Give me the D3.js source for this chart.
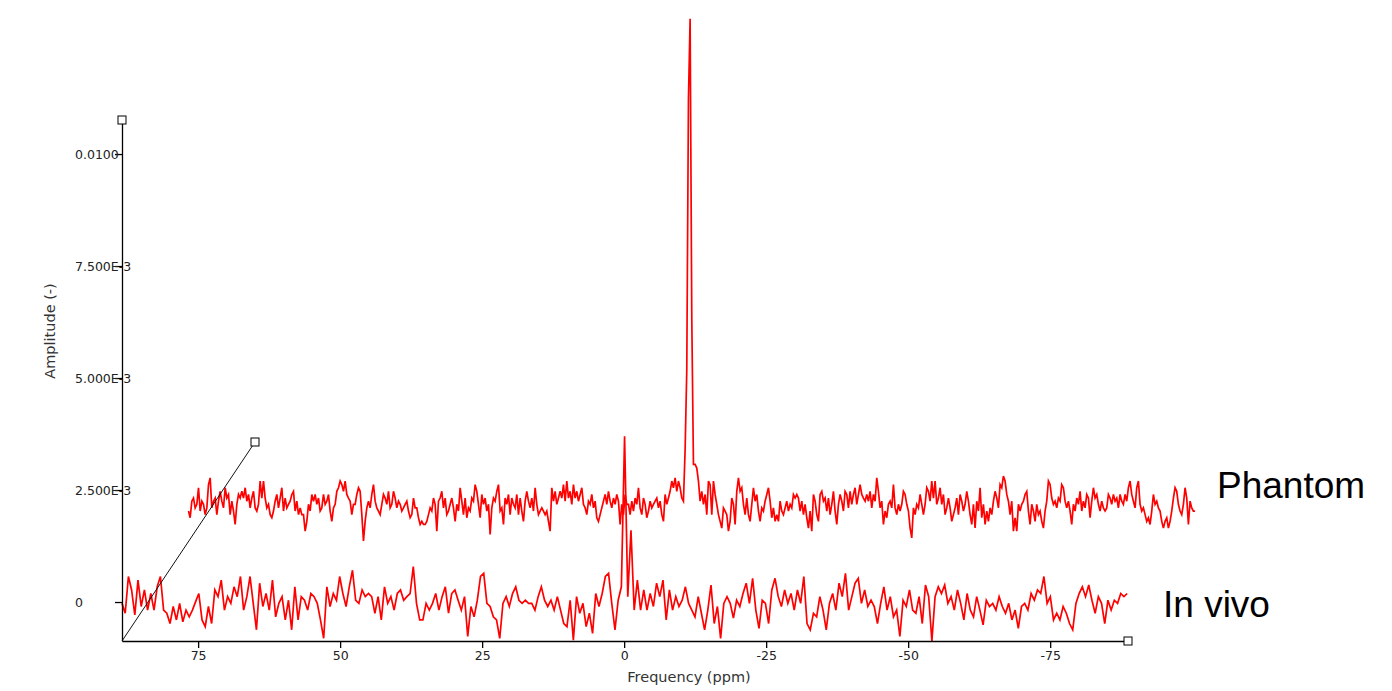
<!DOCTYPE html>
<html>
<head>
<meta charset="utf-8">
<script src="https://cdn.jsdelivr.net/npm/d3@7"></script>
<style>
  body { margin: 0; background: #fff; }
  svg { display: block; }
</style>
</head>
<body>
<div id="chart"></div>
<script>
// amplitudes are in units of 1E-3, frequency in ppm
const seriesNames = ["In vivo", "Phantom"];
const seriesDepth = [0, 0.5];          // position along the depth axis (0 = front)
const invivoPpm = [88.4, -88.55];      // first / last point of the frequency grid
const phantomPpm = [88.4, -88.8];

const invivoAmp = [
  -0.03,-0.25,0.57,0.27,-0.29,0.49,-0.10,0.27,-0.18,0.19,
  -0.18,0.34,0.57,-0.18,-0.25,-0.48,-0.10,-0.40,-0.03,-0.44,
  -0.18,-0.33,-0.18,0.01,0.19,-0.40,-0.55,-0.10,-0.48,0.27,
  0.12,0.49,-0.18,0.12,-0.03,0.34,0.12,0.57,-0.18,0.12,
  0.57,-0.03,-0.62,0.42,-0.10,0.19,-0.18,0.49,-0.33,-0.03,
  0.12,-0.40,0.04,-0.62,0.34,-0.40,0.12,0.04,-0.18,0.19,
  0.12,-0.03,-0.40,-0.81,0.34,-0.10,0.19,0.04,0.57,0.19,
  -0.10,0.34,0.71,0.04,-0.03,0.27,0.12,0.19,0.12,-0.25,
  0.12,-0.40,0.34,-0.03,0.12,-0.18,0.19,0.27,0.04,0.12,
  0.19,0.79,-0.03,-0.40,-0.40,-0.03,-0.18,-0.03,0.19,-0.18,
  0.12,0.34,-0.25,0.19,0.27,0.04,-0.18,0.12,-0.77,-0.10,
  -0.33,0.04,0.57,0.64,-0.03,-0.10,-0.33,-0.40,-0.81,-0.03,
  0.12,-0.10,0.19,0.34,0.04,-0.03,0.04,-0.03,-0.03,-0.18,
  0.12,0.34,0.04,-0.10,0.04,-0.18,0.12,-0.18,-0.48,-0.55,
  0.04,-0.85,0.12,-0.25,-0.03,-0.55,-0.25,-0.70,0.19,-0.10,
  0.19,0.57,0.64,-0.03,-0.62,0.04,0.34,
  3.70,0.12,1.60,-0.18,0.49,-0.18,0.27,-0.18,0.19,-0.10,
  0.42,0.12,0.49,-0.40,0.27,-0.18,0.12,-0.10,0.04,0.34,
  -0.03,-0.18,-0.33,0.12,-0.25,-0.62,-0.18,0.38,-0.48,-0.10,
  -0.81,-0.03,0.12,-0.03,-0.36,0.04,-0.10,0.19,0.42,-0.03,
  0.53,-0.18,-0.59,0.04,-0.03,-0.48,0.27,0.53,0.12,-0.10,
  0.27,-0.03,0.19,-0.18,0.27,-0.03,0.57,-0.48,-0.62,-0.25,
  -0.33,0.12,-0.18,-0.62,-0.03,0.19,-0.18,0.42,0.12,0.64,
  -0.18,0.12,0.42,0.53,-0.03,0.27,-0.10,0.04,-0.10,-0.48,
  -0.03,0.34,-0.18,0.12,-0.33,-0.18,-0.77,0.04,-0.10,0.27,
  -0.18,-0.25,0.12,-0.48,0.38,0.12,-0.87,0.12,0.34,0.19,
  0.38,-0.03,0.12,-0.18,0.27,-0.03,-0.40,0.19,-0.18,-0.33,
  0.12,-0.18,-0.51,0.04,-0.10,-0.03,-0.18,0.12,-0.10,-0.25,
  -0.03,-0.40,-0.18,-0.59,-0.10,-0.03,-0.18,0.19,0.04,0.27,
  0.19,0.57,-0.03,0.12,-0.40,-0.25,-0.40,-0.10,-0.25,-0.48,
  -0.62,-0.03,0.19,0.34,0.12,0.38,0.04,-0.25,0.12,-0.03,
  -0.48,0.04,-0.18,0.04,-0.03,0.19,0.12,0.19
];

const phantomAmp = [
  -0.19,-0.34,0.03,0.10,-0.12,-0.04,0.33,-0.19,0.03,-0.04,
  -0.27,-0.12,0.40,0.55,-0.12,0.03,0.10,-0.27,0.03,0.25,
  0.03,-0.12,0.33,0.10,0.18,-0.27,0.03,-0.19,-0.49,-0.04,
  0.18,0.10,0.25,0.10,0.33,0.03,0.18,-0.12,0.10,0.25,
  -0.12,-0.19,-0.04,0.48,0.10,0.48,0.10,-0.12,-0.04,-0.27,
  -0.34,-0.19,0.03,0.18,-0.12,0.10,0.33,-0.19,0.10,-0.12,
  -0.04,0.03,0.18,0.25,-0.19,0.03,-0.27,-0.12,-0.27,-0.27,
  -0.64,-0.42,-0.04,-0.19,0.18,0.03,0.18,-0.04,0.10,-0.19,
  -0.12,0.18,-0.04,0.03,0.18,-0.19,-0.42,-0.12,-0.04,0.25,
  0.33,0.48,0.40,0.25,0.48,0.18,0.10,0.03,-0.27,-0.04,
  -0.04,0.18,0.33,0.25,-0.27,-0.86,-0.42,-0.12,0.03,-0.12,
  0.18,0.40,0.03,-0.12,-0.19,-0.27,-0.04,0.18,0.10,-0.04,
  0.25,-0.12,-0.04,0.25,0.10,-0.12,0.03,-0.04,-0.19,-0.12,
  -0.04,0.03,-0.19,-0.34,-0.27,0.10,-0.12,-0.12,-0.34,-0.49,
  -0.42,-0.49,-0.49,-0.42,-0.27,-0.12,-0.19,0.10,-0.04,-0.64,
  0.03,0.10,0.25,-0.12,0.10,-0.27,-0.19,-0.04,0.10,-0.12,
  -0.42,-0.04,-0.19,0.33,0.03,-0.27,0.10,-0.34,-0.12,-0.19,
  0.10,0.03,0.40,0.25,-0.04,-0.34,0.18,-0.04,0.10,-0.19,
  -0.04,-0.71,-0.12,0.10,0.03,0.25,0.40,-0.19,-0.12,-0.49,
  0.10,-0.04,0.18,-0.27,0.10,-0.04,-0.12,0.18,-0.27,0.10,
  -0.19,-0.42,0.03,0.25,0.03,-0.12,0.10,-0.19,0.33,-0.04,
  -0.27,-0.19,-0.12,-0.19,-0.27,-0.19,-0.42,-0.64,0.33,0.03,
  0.25,-0.04,0.10,0.25,0.10,0.40,0.03,0.48,0.10,0.25,
  -0.04,0.40,0.10,0.25,0.03,0.18,0.33,-0.04,-0.12,-0.27,
  0.03,-0.04,0.18,-0.12,0.03,-0.34,-0.42,-0.27,-0.12,0.03,
  0.18,-0.04,0.25,0.03,-0.12,0.10,-0.04,0.18,0.03,-0.49,
  -0.04,-0.27,0.18,-0.04,-0.04,-0.27,0.03,-0.19,0.10,-0.04,
  0.33,-0.12,-0.27,0.10,-0.04,-0.34,-0.19,0.03,-0.12,-0.04,
  0.03,0.10,-0.12,0.03,-0.27,-0.42,0.18,-0.04,0.10,0.25,
  0.48,0.33,0.55,0.25,0.48,0.33,0.10,0.03,1.18,
  2.97,9.00,10.80,4.10,0.85,
  0.85,0.77,0.48,0.03,0.25,-0.04,0.18,-0.27,0.48,0.40,
  -0.27,0.48,0.18,-0.04,-0.27,-0.42,-0.57,-0.12,-0.19,-0.27,
  -0.64,-0.42,0.10,-0.04,-0.49,0.25,0.55,0.25,0.33,-0.04,
  -0.27,0.10,-0.27,-0.42,-0.04,0.33,0.03,0.18,-0.19,-0.42,
  -0.12,-0.19,0.03,0.18,0.33,0.03,-0.34,-0.12,-0.42,-0.27,
  -0.42,0.03,-0.19,-0.27,-0.12,0.03,-0.19,-0.04,-0.12,0.18,
  0.10,0.18,0.10,-0.19,0.03,-0.27,-0.04,-0.34,-0.57,-0.19,
  -0.64,0.18,0.03,-0.27,-0.42,0.18,0.25,0.03,0.10,-0.19,
  0.10,-0.27,-0.04,0.25,-0.19,-0.49,-0.04,0.18,0.03,-0.19,
  0.25,0.18,-0.12,0.25,-0.04,0.18,0.33,-0.04,0.18,0.40,
  0.18,0.10,0.03,0.18,0.03,0.25,-0.12,0.18,0.03,0.55,
  0.25,-0.12,0.03,-0.49,-0.19,-0.34,-0.04,0.03,-0.12,0.40,
  -0.12,-0.27,-0.04,-0.19,-0.04,0.25,0.18,-0.04,-0.19,-0.57,
  -0.79,-0.12,-0.27,-0.04,-0.12,0.18,-0.04,-0.27,-0.04,0.33,
  0.25,0.03,0.48,0.10,0.48,-0.04,0.10,0.33,-0.04,0.18,
  -0.27,-0.12,0.10,-0.12,-0.42,-0.27,-0.12,0.10,-0.27,0.18,
  0.03,-0.19,-0.04,0.25,0.03,-0.27,-0.49,-0.04,-0.57,0.03,
  -0.19,0.33,-0.34,-0.04,-0.49,-0.19,-0.42,-0.12,-0.27,0.03,
  0.25,0.10,-0.12,0.40,0.33,0.59,0.48,0.18,0.03,-0.27,
  0.03,-0.64,-0.34,-0.64,-0.04,-0.19,-0.04,0.03,0.18,0.25,
  -0.19,-0.49,-0.04,-0.19,-0.42,-0.04,-0.27,-0.19,-0.42,-0.57,
  -0.19,0.03,0.48,0.40,0.10,-0.04,0.03,-0.12,0.10,0.03,
  0.40,0.33,0.03,-0.12,0.03,-0.19,-0.49,-0.04,-0.19,0.10,
  -0.04,0.25,-0.19,0.03,-0.12,0.18,0.10,-0.34,0.03,0.33,
  0.10,0.18,-0.04,-0.19,0.03,-0.12,-0.19,-0.12,0.18,0.10,
  -0.04,0.18,0.03,0.10,-0.12,0.18,0.03,-0.04,0.18,0.03,
  0.33,0.48,0.18,0.03,-0.12,0.33,0.48,-0.04,-0.19,-0.12,
  -0.27,-0.42,-0.34,-0.49,-0.19,0.18,-0.04,0.03,-0.12,-0.19,
  -0.42,-0.57,-0.42,-0.34,-0.57,-0.42,-0.19,0.10,0.33,0.25,
  -0.04,-0.19,-0.27,-0.04,0.33,0.10,-0.49,0.03,-0.12,-0.19,
  -0.19
];

const xTicks = [75, 50, 25, 0, -25, -50, -75];
const yTicks = [0, 2.5, 5, 7.5, 10];
const yTickLabels = ["0", "2.500E-3", "5.000E-3", "7.500E-3", "0.0100"];
const xTitle = "Frequency (ppm)";
const yTitle = "Amplitude (-)";

const width = 1392, height = 691;
const smallFont = "'DejaVu Sans', Verdana, sans-serif";
const bigFont = "'Liberation Sans', Arial, sans-serif";

const x = d3.scaleLinear().domain([88.4, -88.7]).range([122, 1128]);
const y = d3.scaleLinear().domain([-0.87, 10.76]).range([641, 120]);
// depth axis drawn as an oblique projection
const zX = d3.scaleLinear().domain([0, 1]).range([0, 133]);
const zY = d3.scaleLinear().domain([0, 1]).range([0, -199]);

const svg = d3.select("#chart").append("svg")
  .attr("width", width)
  .attr("height", height);

function toPoints(amp, ppmRange) {
  const f = d3.scaleLinear().domain([0, amp.length - 1]).range(ppmRange);
  return amp.map((a, i) => [f(i), a]);
}

const series = [
  {name: seriesNames[1], depth: seriesDepth[1], pts: toPoints(phantomAmp, phantomPpm)},
  {name: seriesNames[0], depth: seriesDepth[0], pts: toPoints(invivoAmp, invivoPpm)}
];

svg.append("g").selectAll("path")
  .data(series).enter()
  .append("path")
    .attr("fill", "none")
    .attr("stroke", "#ff0000")
    .attr("stroke-width", 1.7)
    .attr("stroke-linejoin", "miter")
    .attr("d", s => d3.line()
      .x(d => x(d[0]) + zX(s.depth))
      .y(d => y(d[1]) + zY(s.depth))(s.pts));

// x axis
const gx = svg.append("g")
  .attr("transform", `translate(0,${y(-0.87)})`)
  .call(d3.axisBottom(x).tickValues(xTicks).tickSize(7).tickSizeOuter(0).tickFormat(d => String(d)));
gx.selectAll("text").attr("y", 10).attr("font-size", 12.5).attr("font-family", smallFont).attr("fill", "#222");

// y axis
const gy = svg.append("g")
  .attr("transform", `translate(${x(88.4)},0)`)
  .call(d3.axisLeft(y).tickValues(yTicks).tickSize(7).tickSizeOuter(0).tickFormat((d, i) => yTickLabels[i]));
gy.selectAll("text")
  .attr("x", -47)
  .attr("text-anchor", "start")
  .attr("font-size", 12.5)
  .attr("font-family", smallFont)
  .attr("fill", "#222");
gy.selectAll("path, line").attr("stroke", "#000").attr("stroke-width", 1.3);
gx.selectAll("path, line").attr("stroke", "#000").attr("stroke-width", 1.3);

// depth axis
const ox = x(88.4), oy = y(-0.87);
svg.append("line")
  .attr("x1", ox).attr("y1", oy)
  .attr("x2", ox + zX(1)).attr("y2", oy + zY(1))
  .attr("stroke", "#111")
  .attr("stroke-width", 1);

// end markers
const ends = [[ox, y(10.76)], [x(-88.7), oy], [ox + zX(1), oy + zY(1)]];
svg.append("g").selectAll("rect")
  .data(ends).enter()
  .append("rect")
    .attr("x", d => d[0] - 4)
    .attr("y", d => d[1] - 4)
    .attr("width", 8)
    .attr("height", 8)
    .attr("fill", "#fff")
    .attr("stroke", "#000")
    .attr("stroke-width", 1);

// axis titles
svg.append("text")
  .attr("x", 689).attr("y", 682)
  .attr("text-anchor", "middle")
  .attr("font-family", smallFont)
  .attr("font-size", 14.5)
  .attr("fill", "#333")
  .text(xTitle);

svg.append("text")
  .attr("transform", "translate(55,331) rotate(-90)")
  .attr("text-anchor", "middle")
  .attr("font-family", smallFont)
  .attr("font-size", 14.5)
  .attr("fill", "#333")
  .text(yTitle);

// series labels
svg.append("text")
  .attr("x", 1217).attr("y", 498)
  .attr("font-family", bigFont)
  .attr("font-size", 37)
  .attr("fill", "#000")
  .text(seriesNames[1]);

svg.append("text")
  .attr("x", 1163).attr("y", 617)
  .attr("font-family", bigFont)
  .attr("font-size", 37)
  .attr("fill", "#000")
  .text(seriesNames[0]);
</script>
</body>
</html>
